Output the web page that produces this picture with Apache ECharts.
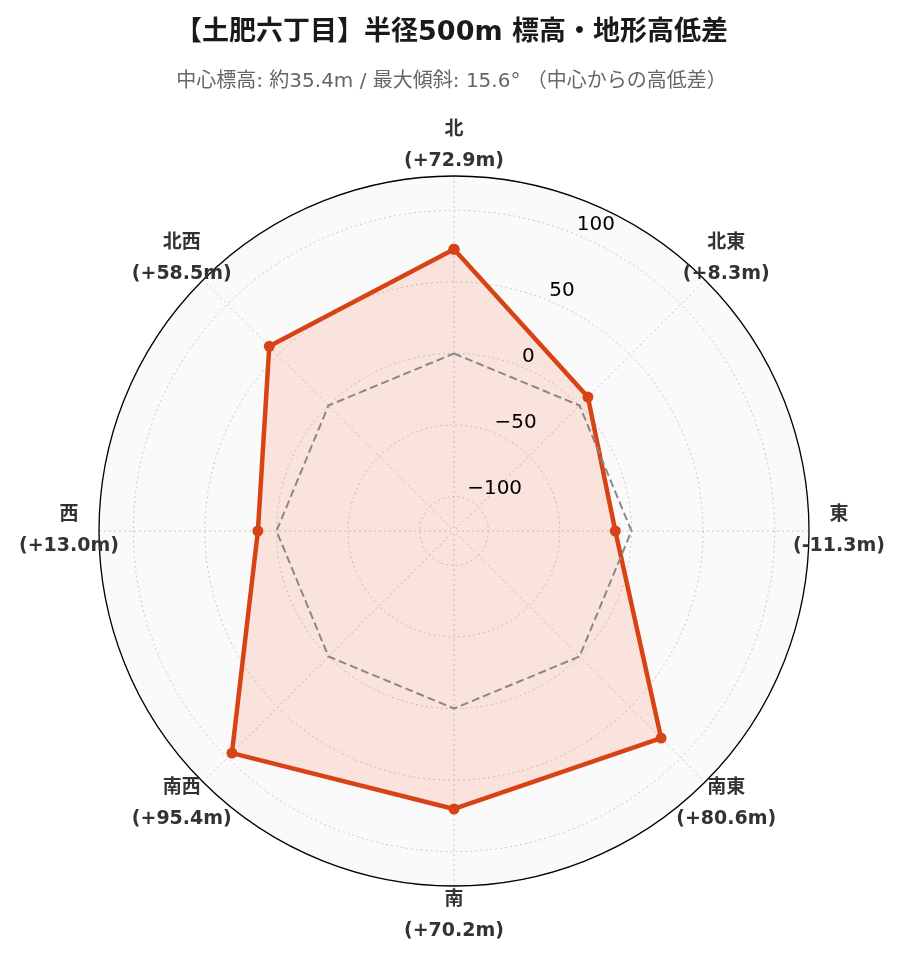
<!DOCTYPE html>
<html>
<head>
<meta charset="utf-8">
<script src="https://cdn.jsdelivr.net/npm/echarts@6/dist/echarts.min.js"></script>
<style>
html,body{margin:0;padding:0;background:#fff;}
#chart{width:903px;height:962px;}
</style>
</head>
<body>
<div id="chart"></div>
<script>
// ---- data ----
const directions = ['北', '北東', '東', '南東', '南', '南西', '西', '北西'];
const diffs = [72.9, 8.3, -11.3, 80.6, 70.2, 95.4, 13.0, 58.5];
const baseline = [0, 0, 0, 0, 0, 0, 0, 0];
const radialTicks = [-100, -50, 0, 50, 100];
const rMin = -124;
const rMax = 124;
const titleText = '【土肥六丁目】半径500m 標高・地形高低差';
const subText = '中心標高: 約35.4m / 最大傾斜: 15.6° （中心からの高低差）';

const FONT = '"DejaVu Sans", "Noto Sans CJK JP", sans-serif';
const N = directions.length;

function closed(vals) {
  const d = vals.map((v, i) => [v, i]);
  d.push([vals[0], N]);
  return d;
}
function fmtDiff(v) {
  return '(' + (v >= 0 ? '+' : '') + v.toFixed(1) + 'm)';
}

const hiddenAxis = {show: false, axisLine: {show: false}, axisTick: {show: false}, axisLabel: {show: false}, splitLine: {show: false}};

const chart = echarts.init(document.getElementById('chart'), null, {renderer: 'canvas'});
chart.setOption({
  backgroundColor: '#ffffff',
  animation: false,
  title: {
    text: titleText,
    subtext: subText,
    left: 'center',
    top: 10,
    itemGap: 19,
    textStyle: {fontFamily: FONT, fontSize: 27, fontWeight: 'bold', color: '#1a1a1a', lineHeight: 36},
    subtextStyle: {fontFamily: FONT, fontSize: 20, color: '#666666', lineHeight: 24}
  },
  polar: [
    {center: [454, 531], radius: 355},
    {center: [454, 531], radius: 385},
    {center: [454, 531], radius: 355}
  ],
  angleAxis: [
    {
      polarIndex: 0,
      type: 'value',
      min: 0,
      max: N,
      interval: 1,
      startAngle: 90,
      clockwise: true,
      z: 2,
      axisLine: {show: true, lineStyle: {color: '#000', width: 1.3}},
      axisTick: {show: false},
      axisLabel: {show: false},
      splitLine: {show: true, lineStyle: {color: '#c8c8c8', type: [2, 3], width: 1}},
      splitArea: {show: false}
    },
    Object.assign({polarIndex: 1, type: 'value', min: 0, max: N, interval: 1, startAngle: 90, clockwise: true}, hiddenAxis),
    {
      polarIndex: 2,
      type: 'value',
      min: 0,
      max: N,
      interval: 1,
      startAngle: 90,
      clockwise: true,
      z: 0,
      axisLine: {show: false},
      axisTick: {show: false},
      axisLabel: {show: false},
      splitLine: {show: false},
      splitArea: {show: true, areaStyle: {color: ['#fafafa']}}
    }
  ],
  radiusAxis: [
    {
      polarIndex: 0,
      type: 'value',
      min: rMin,
      max: rMax,
      splitNumber: 5,
      z: 2,
      axisLine: {show: false},
      axisTick: {show: false},
      axisLabel: {show: false},
      splitLine: {show: true, lineStyle: {color: '#c8c8c8', type: [2, 3], width: 1}}
    },
    Object.assign({polarIndex: 1, type: 'value', min: 0, max: 1}, hiddenAxis),
    Object.assign({polarIndex: 2, type: 'value', min: 0, max: 1}, hiddenAxis)
  ],
  series: [
    {
      type: 'line',
      coordinateSystem: 'polar',
      polarIndex: 0,
      data: closed(diffs),
      symbol: 'circle',
      symbolSize: 11,
      itemStyle: {color: '#d84315'},
      lineStyle: {color: '#d84315', width: 4.5},
      areaStyle: {color: 'rgba(255,80,40,0.19)', origin: 'start'},
      z: 4
    },
    {
      type: 'line',
      coordinateSystem: 'polar',
      polarIndex: 0,
      data: closed(baseline),
      symbol: 'none',
      lineStyle: {color: '#888888', width: 2, type: [8, 4]},
      z: 5
    },
    {
      type: 'scatter',
      coordinateSystem: 'polar',
      polarIndex: 0,
      data: radialTicks.map(v => [v, 0.5]),
      symbolSize: 0,
      silent: true,
      itemStyle: {opacity: 1},
      label: {
        show: true,
        position: [0, 0],
        align: 'left',
        verticalAlign: 'bottom',
        fontFamily: FONT,
        fontSize: 20,
        color: '#000000',
        formatter: p => String(p.value[0]).replace('-', '\u2212')
      },
      z: 6
    },
    {
      type: 'scatter',
      coordinateSystem: 'polar',
      polarIndex: 1,
      data: directions.map((d, i) => [1, i]),
      symbolSize: 0,
      silent: true,
      itemStyle: {opacity: 1},
      label: {
        show: true,
        position: [0, 0],
        align: 'center',
        verticalAlign: 'middle',
        fontFamily: FONT,
        fontSize: 19,
        fontWeight: 'bold',
        color: '#333333',
        lineHeight: 31,
        formatter: p => directions[p.dataIndex] + '\n' + fmtDiff(diffs[p.dataIndex])
      },
      z: 6
    }
  ]
});
</script>
</body>
</html>
